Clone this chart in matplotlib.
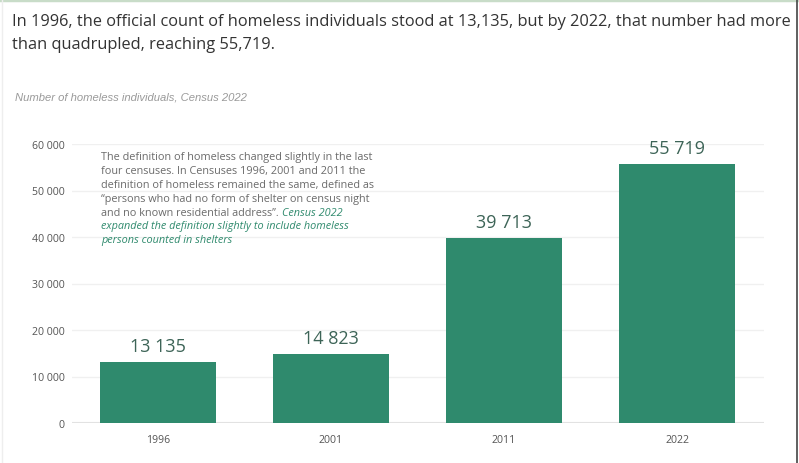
import matplotlib.pyplot as plt
from matplotlib.ticker import FuncFormatter
from matplotlib.lines import Line2D

years = ['1996', '2001', '2011', '2022']
counts = [13135, 14823, 39713, 55719]
y_ticks = [0, 10000, 20000, 30000, 40000, 50000, 60000]

bar_color = '#2f8a6d'
label_color = '#3d6457'
note_gray = '#6b6b6b'
note_green = '#2f8a6d'

plt.rcParams['font.family'] = ['Open Sans', 'DejaVu Sans']

fig = plt.figure(figsize=(7.99, 4.64), dpi=100)
W, H = 799, 464
ax = fig.add_axes([71.5 / W, (H - 424) / H, 692 / W, (424 - 145) / H])

x = range(len(years))
bars = ax.bar(x, counts, width=0.665, color=bar_color, zorder=3)
ax.set_xlim(-0.5, 3.5)
ax.set_ylim(0, 60000)
ax.set_xticks(list(x))
ax.set_xticklabels(years)
ax.set_yticks(y_ticks)
ax.yaxis.set_major_formatter(FuncFormatter(lambda v, p: f'{int(v):,}'.replace(',', ' ')))
ax.tick_params(axis='both', length=0, labelsize=7.6, labelcolor='#555555')
ax.tick_params(axis='y', pad=5)
ax.tick_params(axis='x', pad=8)
for s in ax.spines.values():
    s.set_visible(False)
ax.grid(axis='y', color='#f0f0f0', linewidth=1, zorder=0)
ax.axhline(0, color='#e2e2e2', linewidth=1.5, zorder=2)

for b, c in zip(bars, counts):
    ax.annotate(f'{c:,}'.replace(',', ' '), (b.get_x() + b.get_width() / 2, c),
                xytext=(0, 5), textcoords='offset points', ha='center', va='bottom',
                fontsize=13, color=label_color, annotation_clip=False)

# headline and subtitle
fig.text(12 / W, 1 - 14 / H,
         'In 1996, the official count of homeless individuals stood at 13,135, but by 2022, that number had more\n'
         'than quadrupled, reaching 55,719.',
         ha='left', va='top', fontsize=11.8, color='#333333', linespacing=1.62)
fig.text(15 / W, 1 - 97 / H, 'Number of homeless individuals, Census 2022',
         ha='left', va='center', fontsize=8.1, style='italic', color='#9a9a9a',
         family=['Liberation Sans', 'DejaVu Sans'])

# note inside chart
gray_lines = [
    'The definition of homeless changed slightly in the last',
    'four censuses. In Censuses 1996, 2001 and 2011 the',
    'definition of homeless remained the same, defined as',
    '\u201cpersons who had no form of shelter on census night',
]
fs_note = 7.8
line_h = 13.8
y0 = 158
for i, s in enumerate(gray_lines):
    fig.text(101 / W, 1 - (y0 + i * line_h) / H, s, ha='left', va='center',
             fontsize=fs_note, color=note_gray)
t5 = fig.text(101 / W, 1 - (y0 + 4 * line_h) / H, 'and no known residential address\u201d. ',
              ha='left', va='center', fontsize=fs_note, color=note_gray)
ax.annotate('Census 2022', xy=(1, 0.5), xycoords=t5, ha='left', va='center',
            fontsize=fs_note, color=note_green, style='italic')
for i, s in enumerate(['expanded the definition slightly to include homeless',
                       'persons counted in shelters']):
    fig.text(101 / W, 1 - (y0 + (5 + i) * line_h) / H, s, ha='left', va='center',
             fontsize=fs_note, color=note_green, style='italic')

# frame lines of the screenshot
fig.add_artist(Line2D([0, 1], [1 - 1 / H, 1 - 1 / H], transform=fig.transFigure,
                      color='#c8dcc8', linewidth=2.5))
fig.add_artist(Line2D([797 / W, 797 / W], [0, 1], transform=fig.transFigure,
                      color='#444444', linewidth=1.2))
fig.add_artist(Line2D([2 / W, 2 / W], [0, 1], transform=fig.transFigure,
                      color='#eeeeee', linewidth=1))

fig.savefig('out.png', dpi=100)
